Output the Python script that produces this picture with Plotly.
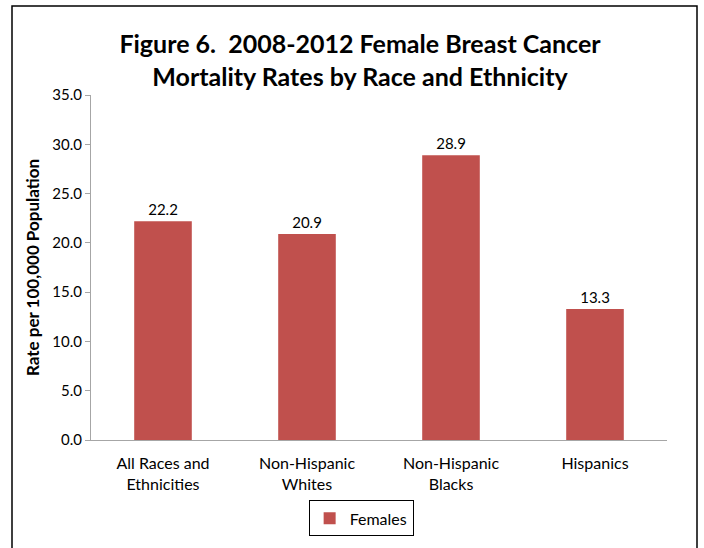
import plotly.graph_objects as go

categories = ["All Races and<br>Ethnicities", "Non-Hispanic<br>Whites", "Non-Hispanic<br>Blacks", "Hispanics"]
values = [22.2, 20.9, 28.9, 13.3]
series_name = "Females"
y_ticks = [0, 5, 10, 15, 20, 25, 30, 35]

FONT = "Lato, 'Open Sans', sans-serif"
W, H = 704, 548
L, R, T, B = 91, 37, 95, 108

fig = go.Figure()
fig.add_trace(go.Bar(
    x=categories, y=values, name=series_name,
    marker=dict(color="#C0504D", line=dict(width=0)),
    text=[f"{v:.1f}" for v in values], textposition="outside",
    textfont=dict(size=15, color="#000000", family=FONT),
    cliponaxis=False, showlegend=True,
))

fig.update_layout(
    width=W, height=H,
    margin=dict(l=L, r=R, t=T, b=B),
    paper_bgcolor="white", plot_bgcolor="white",
    font=dict(family=FONT, size=15, color="#000000"),
    title=dict(
        text="<b>Figure 6.  2008-2012 Female Breast Cancer<br>Mortality Rates by Race and Ethnicity</b>",
        x=(360) / W, xanchor="center", xref="container",
        y=1 - 53 / H, yanchor="middle", yref="container",
        font=dict(size=25, family=FONT, color="#000000"),
    ),
    bargap=0.6,
    showlegend=True,
    legend=dict(
        orientation="h", x=0.469, xanchor="center", y=-0.175, yanchor="top",
        bordercolor="#000000", borderwidth=1, itemwidth=30,
        font=dict(size=16, family=FONT),
    ),
    xaxis=dict(
        showgrid=False, showline=True, linecolor="#A6A6A6", linewidth=1,
        ticks="", tickfont=dict(size=16), zeroline=False, ticklabelstandoff=9,
    ),
    yaxis=dict(
        range=[0, 35], tickvals=y_ticks, tickformat=".1f",
        showgrid=False, showline=True, linecolor="#A6A6A6", linewidth=1,
        ticks="outside", ticklen=5, tickcolor="#A6A6A6",
        tickfont=dict(size=15), zeroline=False,
        title=dict(text="<b>Rate per 100,000 Population</b>", font=dict(size=17), standoff=8),
    ),
    shapes=[dict(
        type="rect", xref="paper", yref="paper",
        x0=(12 - L) / (W - L - R), x1=(697 - L) / (W - L - R),
        y0=(H - B - 560) / (H - T - B), y1=(H - B - 6) / (H - T - B),
        line=dict(color="#000000", width=1.5), fillcolor="rgba(0,0,0,0)", layer="below",
    )],
)

fig.write_html("out.html")
